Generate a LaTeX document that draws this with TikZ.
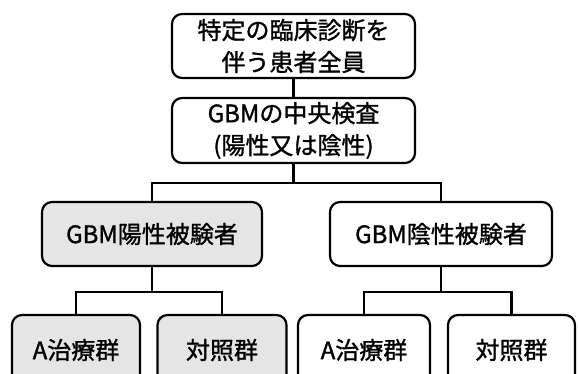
\documentclass[tikz,border=0pt]{standalone}
\usepackage{fontspec}
\newfontfamily\jpfont[FakeBold=1.2]{Noto Sans CJK JP}
\begin{document}
\begin{tikzpicture}[x=1pt,y=-1pt,
  box/.style={draw=black,line width=2.2pt,rounded corners=10pt,align=center,
    inner sep=0pt,font=\jpfont\fontsize{24}{32}\selectfont},
  shaded/.style={fill=black!10},
  link/.style={draw=black,line width=2.2pt}]
\useasboundingbox (0,0) rectangle (578,374);
\clip (0,0) rectangle (578,374);
\node[box,minimum width=243pt,minimum height=64pt] (b1) at (293.5,46) {特定の臨床診断を\\伴う患者全員};
\node[box,minimum width=243pt,minimum height=65pt] (b2) at (293.5,130.5) {GBMの中央検査\\(陽性又は陰性)};
\node[box,shaded,minimum width=220pt,minimum height=64pt] (b3) at (152,234) {GBM陽性被験者};
\node[box,minimum width=222pt,minimum height=64pt] (b4) at (441,234) {GBM陰性被験者};
\node[box,shaded,minimum width=128pt,minimum height=70pt] (c1) at (76,350) {A治療群};
\node[box,shaded,minimum width=129pt,minimum height=70pt] (c2) at (222,350) {対照群};
\node[box,minimum width=132pt,minimum height=70pt] (c3) at (364,350) {A治療群};
\node[box,minimum width=127pt,minimum height=70pt] (c4) at (511.5,350) {対照群};
\coordinate (j1) at (293.5,183);
\coordinate (j2) at (152,292);
\coordinate (j3) at (441,292);
\draw[link] (b1.south) -- (b2.north);
\draw[link] (b2.south) -- (j1);
\draw[link] (j1) -| (b3.north);
\draw[link] (j1) -| (b4.north);
\draw[link] (b3.south) -- (j2);
\draw[link] (j2) -| (c1.north);
\draw[link] (j2) -| (c2.north);
\draw[link] (b4.south) -- (j3);
\draw[link] (j3) -| (c3.north);
\draw[link] (j3) -| (c4.north);
\end{tikzpicture}
\end{document}
